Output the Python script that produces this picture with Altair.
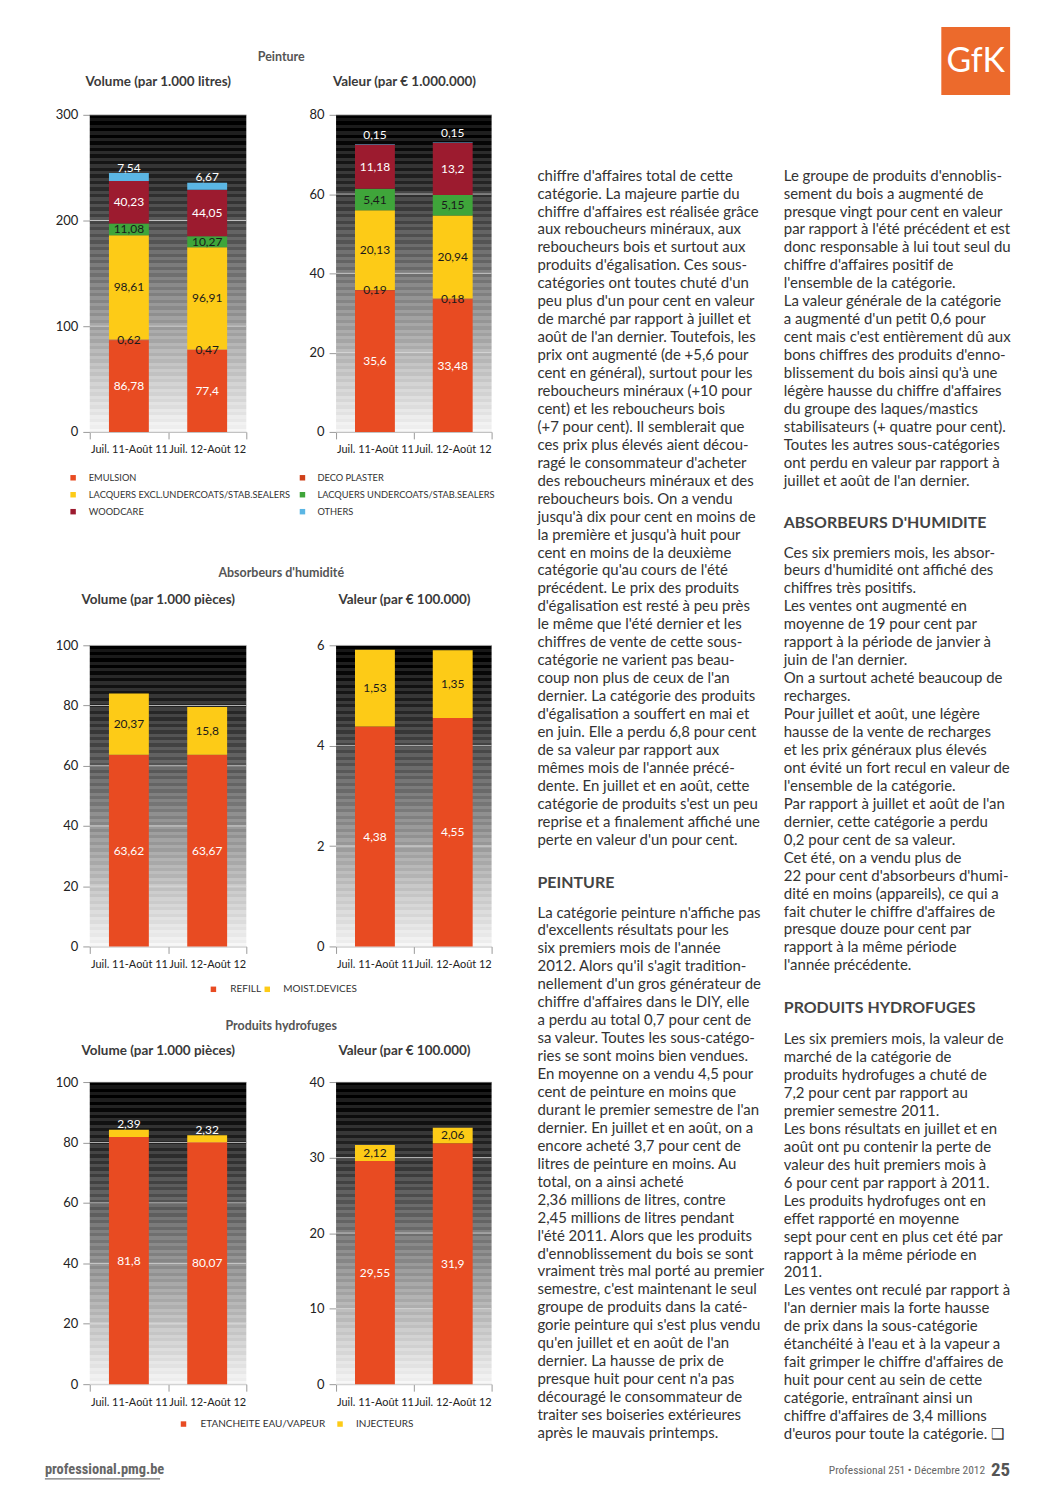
import altair as alt
import pandas as pd

# ------------------------------------------------------------------ data
periods = ["Juil. 11-Août 11", "Juil. 12-Août 12"]

paint_title = "Peinture"
paint_vol_title = "Volume (par 1.000 litres)"
paint_val_title = "Valeur (par € 1.000.000)"
paint_cats = ["EMULSION", "DECO PLASTER", "LACQUERS EXCL.UNDERCOATS/STAB.SEALERS",
              "LACQUERS UNDERCOATS/STAB.SEALERS", "WOODCARE", "OTHERS"]
paint_vol_p1 = [86.78, 0.62, 98.61, 11.08, 40.23, 7.54]
paint_vol_p2 = [77.4, 0.47, 96.91, 10.27, 44.05, 6.67]
paint_val_p1 = [35.6, 0.19, 20.13, 5.41, 11.18, 0.15]
paint_val_p2 = [33.48, 0.18, 20.94, 5.15, 13.2, 0.15]
paint_vol_ticks = [0, 100, 200, 300]
paint_val_ticks = [0, 20, 40, 60, 80]

abs_title = "Absorbeurs d'humidité"
abs_vol_title = "Volume (par 1.000 pièces)"
abs_val_title = "Valeur (par € 100.000)"
abs_cats = ["REFILL", "MOIST.DEVICES"]
abs_vol_p1 = [63.62, 20.37]
abs_vol_p2 = [63.67, 15.8]
abs_val_p1 = [4.38, 1.53]
abs_val_p2 = [4.55, 1.35]
abs_vol_ticks = [0, 20, 40, 60, 80, 100]
abs_val_ticks = [0, 2, 4, 6]

hyd_title = "Produits hydrofuges"
hyd_vol_title = "Volume (par 1.000 pièces)"
hyd_val_title = "Valeur (par € 100.000)"
hyd_cats = ["ETANCHEITE EAU/VAPEUR", "INJECTEURS"]
hyd_vol_p1 = [81.8, 2.39]
hyd_vol_p2 = [80.07, 2.32]
hyd_val_p1 = [29.55, 2.12]
hyd_val_p2 = [31.9, 2.06]
hyd_vol_ticks = [0, 20, 40, 60, 80, 100]
hyd_val_ticks = [0, 10, 20, 30, 40]

# ------------------------------------------------------------------ article text
col1_a = [
    "chiffre d'affaires total de cette",
    "catégorie. La majeure partie du",
    "chiffre d'affaires est réalisée grâce",
    "aux reboucheurs minéraux, aux",
    "reboucheurs bois et surtout aux",
    "produits d'égalisation. Ces sous-",
    "catégories ont toutes chuté d'un",
    "peu plus d'un pour cent en valeur",
    "de marché par rapport à juillet et",
    "août de l'an dernier. Toutefois, les",
    "prix ont augmenté (de +5,6 pour",
    "cent en général), surtout pour les",
    "reboucheurs minéraux (+10 pour",
    "cent) et les reboucheurs bois",
    "(+7 pour cent). Il semblerait que",
    "ces prix plus élevés aient décou-",
    "ragé le consommateur d'acheter",
    "des reboucheurs minéraux et des",
    "reboucheurs bois. On a vendu",
    "jusqu'à dix pour cent en moins de",
    "la première et jusqu'à huit pour",
    "cent en moins de la deuxième",
    "catégorie qu'au cours de l'été",
    "précédent. Le prix des produits",
    "d'égalisation est resté à peu près",
    "le même que l'été dernier et les",
    "chiffres de vente de cette sous-",
    "catégorie ne varient pas beau-",
    "coup non plus de ceux de l'an",
    "dernier. La catégorie des produits",
    "d'égalisation a souffert en mai et",
    "en juin. Elle a perdu 6,8 pour cent",
    "de sa valeur par rapport aux",
    "mêmes mois de l'année précé-",
    "dente. En juillet et en août, cette",
    "catégorie de produits s'est un peu",
    "reprise et a finalement affiché une",
    "perte en valeur d'un pour cent.",
]
col1_head = "PEINTURE"
col1_b = [
    "La catégorie peinture n'affiche pas",
    "d'excellents résultats pour les",
    "six premiers mois de l'année",
    "2012. Alors qu'il s'agit tradition-",
    "nellement d'un gros générateur de",
    "chiffre d'affaires dans le DIY, elle",
    "a perdu au total 0,7 pour cent de",
    "sa valeur. Toutes les sous-catégo-",
    "ries se sont moins bien vendues.",
    "En moyenne on a vendu 4,5 pour",
    "cent de peinture en moins que",
    "durant le premier semestre de l'an",
    "dernier. En juillet et en août, on a",
    "encore acheté 3,7 pour cent de",
    "litres de peinture en moins. Au",
    "total,    on    a    ainsi    acheté",
    "2,36 millions de litres, contre",
    "2,45 millions de litres pendant",
    "l'été 2011. Alors que les produits",
    "d'ennoblissement du bois se sont",
    "vraiment très mal porté au premier",
    "semestre, c'est maintenant le seul",
    "groupe de produits dans la caté-",
    "gorie peinture qui s'est plus vendu",
    "qu'en juillet et en août de l'an",
    "dernier. La hausse de prix de",
    "presque huit pour cent n'a pas",
    "découragé le consommateur de",
    "traiter ses boiseries extérieures",
    "après le mauvais printemps.",
]
col2_a = [
    "Le groupe de produits d'ennoblis-",
    "sement du bois a augmenté de",
    "presque vingt pour cent en valeur",
    "par rapport à l'été précédent et est",
    "donc responsable à lui tout seul du",
    "chiffre    d'affaires    positif    de",
    "l'ensemble de la catégorie.",
    "La valeur générale de la catégorie",
    "a augmenté d'un petit 0,6 pour",
    "cent mais c'est entièrement dû aux",
    "bons chiffres des produits d'enno-",
    "blissement du bois ainsi qu'à une",
    "légère hausse du chiffre d'affaires",
    "du groupe des laques/mastics",
    "stabilisateurs (+ quatre pour cent).",
    "Toutes les autres sous-catégories",
    "ont perdu en valeur par rapport à",
    "juillet et août de l'an dernier.",
]
col2_head_b = "ABSORBEURS D'HUMIDITE"
col2_b = [
    "Ces six premiers mois, les absor-",
    "beurs d'humidité ont affiché des",
    "chiffres très positifs.",
    "Les ventes ont augmenté en",
    "moyenne de 19 pour cent par",
    "rapport à la période de janvier à",
    "juin de l'an dernier.",
    "On a surtout acheté beaucoup de",
    "recharges.",
    "Pour juillet et août, une légère",
    "hausse de la vente de recharges",
    "et les prix généraux plus élevés",
    "ont évité un fort recul en valeur de",
    "l'ensemble de la catégorie.",
    "Par rapport à juillet et août de l'an",
    "dernier, cette catégorie a perdu",
    "0,2 pour cent de sa valeur.",
    "Cet été, on a vendu plus de",
    "22 pour cent d'absorbeurs d'humi-",
    "dité en moins (appareils), ce qui a",
    "fait chuter le chiffre d'affaires de",
    "presque douze pour cent par",
    "rapport à la même période",
    "l'année précédente.",
]
col2_head_c = "PRODUITS HYDROFUGES"
col2_c = [
    "Les six premiers mois, la valeur de",
    "marché de la catégorie de",
    "produits hydrofuges a chuté de",
    "7,2 pour cent par rapport au",
    "premier semestre 2011.",
    "Les bons résultats en juillet et en",
    "août ont pu contenir la perte de",
    "valeur des huit premiers mois à",
    "6 pour cent par rapport à 2011.",
    "Les produits hydrofuges ont en",
    "effet rapporté en moyenne",
    "sept pour cent en plus cet été par",
    "rapport à la même période en",
    "2011.",
    "Les ventes ont reculé par rapport à",
    "l'an dernier mais la forte hausse",
    "de prix dans la sous-catégorie",
    "étanchéité à l'eau et à la vapeur a",
    "fait grimper le chiffre d'affaires de",
    "huit pour cent au sein de cette",
    "catégorie, entraînant ainsi un",
    "chiffre d'affaires de 3,4 millions",
    "d'euros pour toute la catégorie. ❑",
]
footer_left = "professional.pmg.be"
footer_right = "Professional 251 • Décembre 2012"
page_number = "25"
logo_text = "GfK"

# ------------------------------------------------------------------ styles
FONT = "Lato"
COND = "Liberation Sans Narrow, Roboto Condensed, DejaVu Sans Condensed, Lato"
PAINT_COLORS = ["#E84B22", "#CF4019", "#FDCB17", "#3FA53A", "#9C1B2F", "#5BB6E4"]
TWO_COLORS = ["#E84B22", "#FDCB17"]
LIGHT_LABEL_CATS = {"EMULSION", "WOODCARE", "OTHERS", "REFILL", "ETANCHEITE EAU/VAPEUR"}
TEXT_COL = "#333333"

# ------------------------------------------------------------------ layout (pixels)
RIGHT_W = 560
ROW_H = [105, 318, 214, 302, 136, 303, 102]
COL_W = [82, 157, 90, 156, RIGHT_W]
TITLE_X, SUB1_X, SUB2_X = 274, 150.7, 397.6
RX = 27  # right column offset inside its cell


def fmt(v):
    return ("%g" % v).replace(".", ",")


def stripe_gradient(h):
    n = int(round(h / 3.3))
    stops = []
    for i in range(n):
        t0, t1 = i / n, (i + 1) / n
        tm = (t0 + t1) / 2
        base = 0.01 + 0.95 * tm ** 1.05
        amp = 0.055 * (1 - tm) + 0.012
        lum = base + (amp if i % 2 else -amp)
        lum = min(max(lum, 0.0), 1.0)
        g = int(round(lum * 255))
        c = "#%02x%02x%02x" % (g, g, g)
        stops.append(alt.GradientStop(color=c, offset=t0))
        stops.append(alt.GradientStop(color=c, offset=t1))
    return alt.LinearGradient(gradient="linear", stops=stops, x1=0, x2=0, y1=0, y2=1)


def stack(cats, v1, v2, ymax):
    rows = []
    for per, vals in zip(periods, (v1, v2)):
        base = 0.0
        for i, (c, v) in enumerate(zip(cats, vals)):
            top = base + v
            above = (i == len(cats) - 1) and v < 0.04 * ymax
            rows.append({
                "period": per, "cat": c, "y0": base, "y1": top, "mid": (base + top) / 2,
                "label": fmt(v), "above": bool(above),
                "tcol": "#ffffff" if (c in LIGHT_LABEL_CATS or above) else "#1a1a1a",
            })
            base = top
    return pd.DataFrame(rows)


def bar_panel(cats, colors, v1, v2, ymax, ticks, w, h):
    df = stack(cats, v1, v2, ymax)
    xs = alt.Scale(domain=periods, paddingInner=0, paddingOuter=0)
    ys = alt.Scale(domain=[0, ymax], nice=False)
    xaxis = alt.Axis(title=None, labelAngle=0, tickBand="extent", labelFontSize=11,
                     labelColor="#222222", tickColor="#9a9a9a", tickSize=7,
                     domainColor="#b0b0b0", labelPadding=5, grid=False)
    yaxis = alt.Axis(title=None, values=ticks, labelFontSize=13, labelColor="#222222",
                     tickColor="#9a9a9a", tickSize=7, domain=False, grid=False,
                     labelPadding=5)
    X = alt.X("period:N", scale=xs, axis=xaxis)
    bg = alt.Chart(pd.DataFrame({"k": [0]})).mark_rect(color=stripe_gradient(h)).encode(
        x=alt.value(0), x2=alt.value(w), y=alt.value(0), y2=alt.value(h))
    grid = alt.Chart(pd.DataFrame({"t": ticks})).mark_rule(
        color="#dcdcdc", strokeWidth=1, opacity=0.8).encode(
        y=alt.Y("t:Q", scale=ys, axis=yaxis))
    bars = alt.Chart(df).mark_bar(size=40).encode(
        x=X,
        y=alt.Y("y0:Q", scale=ys, axis=yaxis),
        y2="y1:Q",
        color=alt.Color("cat:N", scale=alt.Scale(domain=cats, range=colors), legend=None),
    )
    lab = alt.Chart(df).transform_filter("!datum.above").mark_text(fontSize=12).encode(
        x=X,
        y=alt.Y("mid:Q", scale=ys, axis=yaxis),
        text="label:N",
        color=alt.Color("tcol:N", scale=None),
    )
    lab_top = alt.Chart(df).transform_filter("datum.above").mark_text(fontSize=12, dy=-9).encode(
        x=X,
        y=alt.Y("mid:Q", scale=ys, axis=yaxis),
        text="label:N",
        color=alt.Color("tcol:N", scale=None),
    )
    return alt.layer(bg, grid, bars, lab, lab_top).properties(width=w, height=h)


def txt(records, **mark):
    df = pd.DataFrame(records, columns=["x", "y", "text"])
    return alt.Chart(df).mark_text(**mark).encode(
        x=alt.X("x:Q", scale=None, axis=None),
        y=alt.Y("y:Q", scale=None, axis=None),
        text="text:N",
    )


def legend_layers(cats, colors, sq_x, tx_x, ys, fs):
    df = pd.DataFrame({"cat": cats, "x": sq_x, "y": ys})
    sq = alt.Chart(df).mark_square(size=30, opacity=1).encode(
        x=alt.X("x:Q", scale=None, axis=None),
        y=alt.Y("y:Q", scale=None, axis=None),
        color=alt.Color("cat:N", scale=alt.Scale(domain=cats, range=colors), legend=None),
    )
    labels = txt(list(zip(tx_x, ys, cats)), align="left", baseline="middle",
                 fontSize=fs, color=TEXT_COL)
    return [sq, labels]


def headers(title, sub1, sub2, y_title, y_sub):
    return [
        txt([(TITLE_X, y_title, title)], align="center", baseline="middle",
            fontSize=12.5, fontWeight="bold", color="#555555"),
        txt([(SUB1_X, y_sub, sub1), (SUB2_X, y_sub, sub2)], align="center",
            baseline="middle", fontSize=13.5, fontWeight="bold", color="#3a3a3a"),
    ]


def spacer(w, h):
    return alt.Chart(pd.DataFrame({"t": [""]})).mark_text(baseline="middle").encode(
        text="t:N", x=alt.value(w / 2), y=alt.value(h / 2)).properties(width=w, height=h)


def text_row(layers, row):
    # text sits in the first grid cell and overflows to the right (flush bounds)
    first = alt.layer(*layers).properties(width=COL_W[0], height=ROW_H[row])
    return [first] + [spacer(COL_W[c], ROW_H[row]) for c in range(1, 5)]


def plot_row(vol, val, row):
    h = ROW_H[row]
    return [spacer(COL_W[0], h), vol, spacer(COL_W[2], h), val, spacer(COL_W[4], h)]


# ------------------------------------------------------------------ left column pieces
rowA_layers = headers(paint_title, paint_vol_title, paint_val_title, 47, 72)

rowB = plot_row(
    bar_panel(paint_cats, PAINT_COLORS, paint_vol_p1, paint_vol_p2, 300, paint_vol_ticks, COL_W[1], ROW_H[1]),
    bar_panel(paint_cats, PAINT_COLORS, paint_val_p1, paint_val_p2, 80, paint_val_ticks, COL_W[3], ROW_H[1]),
    1)

leg1_sq = [65.3 if i % 2 == 0 else 295.3 for i in range(len(paint_cats))]
leg1_tx = [81.0 if i % 2 == 0 else 310.3 for i in range(len(paint_cats))]
leg1_y = [46 + 17 * (i // 2) for i in range(len(paint_cats))]
rowC = text_row(
    legend_layers(paint_cats, PAINT_COLORS, leg1_sq, leg1_tx, leg1_y, 9.3)
    + headers(abs_title, abs_vol_title, abs_val_title, 142, 169), 2)

rowE = plot_row(
    bar_panel(abs_cats, TWO_COLORS, abs_vol_p1, abs_vol_p2, 100, abs_vol_ticks, COL_W[1], ROW_H[3]),
    bar_panel(abs_cats, TWO_COLORS, abs_val_p1, abs_val_p2, 6, abs_val_ticks, COL_W[3], ROW_H[3]),
    3)

rowF = text_row(
    legend_layers(abs_cats, TWO_COLORS, [206, 260], [223, 276], [43, 43], 10)
    + headers(hyd_title, hyd_vol_title, hyd_val_title, 80, 105), 4)

rowG = plot_row(
    bar_panel(hyd_cats, TWO_COLORS, hyd_vol_p1, hyd_vol_p2, 100, hyd_vol_ticks, COL_W[1], ROW_H[5]),
    bar_panel(hyd_cats, TWO_COLORS, hyd_val_p1, hyd_val_p2, 40, hyd_val_ticks, COL_W[3], ROW_H[5]),
    5)

underline = alt.Chart(pd.DataFrame({"x": [37], "x2": [152.5], "y": [95]})).mark_rule(
    color="#777777", strokeWidth=1.2).encode(
    x=alt.X("x:Q", scale=None, axis=None), x2="x2:Q",
    y=alt.Y("y:Q", scale=None, axis=None))
rowH = text_row(
    legend_layers(hyd_cats, TWO_COLORS, [176, 333], [193, 349], [40, 40], 10)
    + [txt([(37, 86, footer_left)], align="left", baseline="middle", fontSize=14.5,
           fontWeight="bold", font=COND, color="#666666"), underline], 6)

# ------------------------------------------------------------------ right column (article)
LINE = 18.0
C1X, C2X = 19 + RX, 266 + RX
body = []
for i, s in enumerate(col1_a):
    body.append((C1X, 166 + LINE * i, s))
for i, s in enumerate(col1_b):
    body.append((C1X, 905 + LINE * i, s))
for i, s in enumerate(col2_a):
    body.append((C2X, 166 + LINE * i, s))
for i, s in enumerate(col2_b):
    body.append((C2X, 544 + LINE * i, s))
for i, s in enumerate(col2_c):
    body.append((C2X, 1032 + LINE * i, s))
heads = [(C1X, 875, col1_head), (C2X, 514, col2_head_b), (C2X, 1001, col2_head_c)]

logo_rect = alt.Chart(pd.DataFrame({"x": [424 + RX], "x2": [493 + RX], "y": [17], "y2": [85]})).mark_rect(
    color="#EC6A2C").encode(
    x=alt.X("x:Q", scale=None, axis=None), x2="x2:Q",
    y=alt.Y("y:Q", scale=None, axis=None), y2="y2:Q")

right = alt.layer(
    logo_rect,
    txt([(458.5 + RX, 52, logo_text)], align="center", baseline="middle", fontSize=34,
        color="#ffffff"),
    txt(body, align="left", baseline="middle", fontSize=15, color=TEXT_COL),
    txt(heads, align="left", baseline="middle", fontSize=16, fontWeight="bold",
        color="#444444"),
    txt([(468 + RX, 1465, footer_right)], align="right", baseline="middle", fontSize=11.5,
        font=COND, color="#666666"),
    txt([(493 + RX, 1464, page_number)], align="right", baseline="middle", fontSize=19,
        fontWeight="bold", font=COND, color="#555555"),
).properties(width=RIGHT_W, height=ROW_H[0])

rowA = [alt.layer(*rowA_layers).properties(width=COL_W[0], height=ROW_H[0])] + \
       [spacer(COL_W[c], ROW_H[0]) for c in range(1, 4)] + [right]

cells = rowA + rowB + rowC + rowE + rowF + rowG + rowH

chart = alt.concat(*cells, columns=5, spacing=0, bounds="flush", align="each",
                   padding=0).resolve_scale(color="independent").configure(
    font=FONT).configure_view(strokeWidth=0)

chart.save("out.html", embed_options={"renderer": "svg", "actions": False})
